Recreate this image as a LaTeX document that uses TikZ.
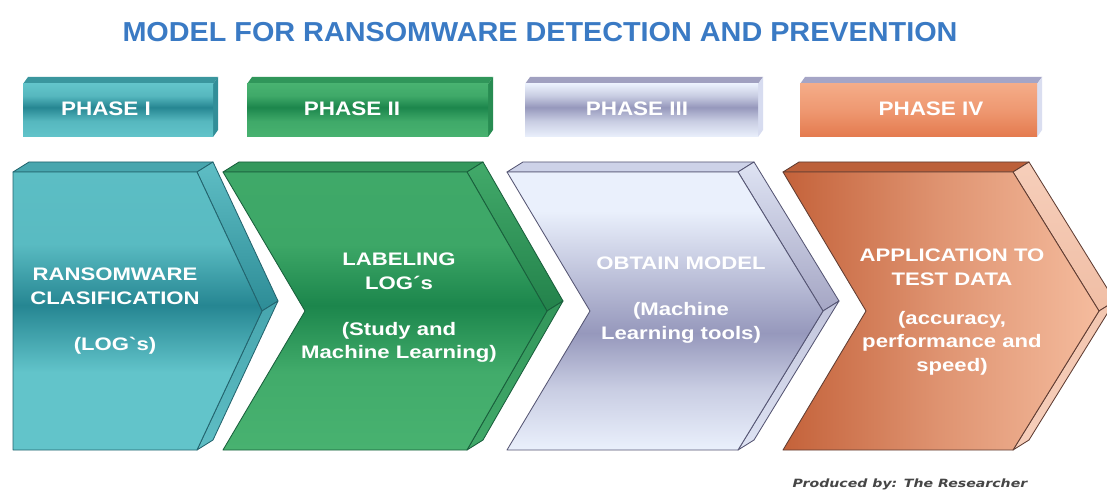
\documentclass[tikz,border=0pt]{standalone}
\usepackage{fontspec}
\setmainfont{Liberation Sans}
\newfontfamily\titlefont[FakeStretch=1.05]{Liberation Sans}
\newfontfamily\chevfont[FakeStretch=1.22]{Liberation Sans}
\newfontfamily\phasefont[FakeStretch=1.15]{Liberation Sans}
\newfontfamily\notefont[FakeStretch=1.24]{DejaVu Sans}

% colours: lt/dk = front band, top = top face, sd/sdb = side face, ln = outline
\definecolor{teallt}{RGB}{98,196,202}
\definecolor{tealdk}{RGB}{38,134,146}
\definecolor{tealtop}{RGB}{72,166,174}
\definecolor{tealsd}{RGB}{95,190,197}
\definecolor{tealsdb}{RGB}{45,140,150}
\definecolor{tealln}{RGB}{35,100,110}
\definecolor{greenlt}{RGB}{72,178,112}
\definecolor{greendk}{RGB}{28,134,76}
\definecolor{greentop}{RGB}{52,152,92}
\definecolor{greensd}{RGB}{66,170,106}
\definecolor{greensdb}{RGB}{35,130,75}
\definecolor{greenln}{RGB}{25,95,60}
\definecolor{lilaclt}{RGB}{234,240,252}
\definecolor{lilacdk}{RGB}{150,152,188}
\definecolor{lilactop}{RGB}{205,210,232}
\definecolor{lilacsd}{RGB}{222,227,243}
\definecolor{lilacsdb}{RGB}{165,166,196}
\definecolor{lilacln}{RGB}{85,85,115}
\definecolor{copperlt}{RGB}{245,188,158}
\definecolor{copperdk}{RGB}{196,98,58}
\definecolor{coppertop}{RGB}{188,96,58}
\definecolor{coppersd}{RGB}{246,206,186}
\definecolor{coppersdb}{RGB}{240,190,165}
\definecolor{copperln}{RGB}{95,60,50}
% phase bars
\definecolor{tealptop}{RGB}{58,150,158}
\definecolor{tealpside}{RGB}{50,142,152}
\definecolor{greenptop}{RGB}{48,150,90}
\definecolor{greenpside}{RGB}{40,140,82}
\definecolor{lilacptop}{RGB}{160,160,192}
\definecolor{lilacpside}{RGB}{215,220,240}
\definecolor{copperptop}{RGB}{165,165,198}
\definecolor{copperpside}{RGB}{218,222,240}
\definecolor{copperplt}{RGB}{245,172,136}
\definecolor{copperpdk}{RGB}{228,122,78}
\definecolor{titleblue}{RGB}{58,122,196}
\definecolor{notegray}{RGB}{70,70,70}

% front faces of the chevrons
\pgfdeclareverticalshading{tealband}{100bp}{color(0bp)=(teallt); color(25bp)=(teallt); color(39bp)=(teallt); color(51bp)=(tealdk); color(62bp)=(teallt!85!tealdk); color(75bp)=(teallt!90!tealdk); color(100bp)=(teallt)}
\pgfdeclareverticalshading{greenband}{100bp}{color(0bp)=(greenlt); color(25bp)=(greenlt); color(39bp)=(greenlt!85!greendk); color(51bp)=(greendk); color(62bp)=(greenlt!75!greendk); color(75bp)=(greenlt!80!greendk); color(100bp)=(greenlt)}
\pgfdeclareverticalshading{lilacband}{100bp}{color(0bp)=(lilaclt); color(25bp)=(lilaclt); color(36bp)=(lilaclt!60!lilacdk); color(46bp)=(lilacdk); color(58bp)=(lilaclt!55!lilacdk); color(68bp)=(lilaclt); color(75bp)=(lilaclt); color(100bp)=(lilaclt)}
\pgfdeclarehorizontalshading{copperband}{100bp}{color(0bp)=(copperdk); color(25bp)=(copperdk); color(50bp)=(copperdk!45!copperlt); color(75bp)=(copperlt); color(100bp)=(copperlt)}
% phase bars
\pgfdeclareverticalshading{tealphase}{100bp}{color(0bp)=(teallt); color(25bp)=(teallt); color(40bp)=(teallt!80!tealdk); color(53bp)=(tealdk); color(64bp)=(teallt!80!tealdk); color(75bp)=(teallt); color(100bp)=(teallt)}
\pgfdeclareverticalshading{greenphase}{100bp}{color(0bp)=(greenlt); color(25bp)=(greenlt); color(40bp)=(greenlt!80!greendk); color(53bp)=(greendk); color(64bp)=(greenlt!80!greendk); color(75bp)=(greenlt); color(100bp)=(greenlt)}
\pgfdeclareverticalshading{lilacphase}{100bp}{color(0bp)=(lilaclt); color(25bp)=(lilaclt); color(40bp)=(lilaclt!60!lilacdk); color(53bp)=(lilacdk); color(64bp)=(lilaclt!60!lilacdk); color(75bp)=(lilaclt); color(100bp)=(lilaclt)}
\pgfdeclareverticalshading{copperphase}{100bp}{color(0bp)=(copperpdk); color(25bp)=(copperpdk); color(50bp)=(copperplt!60!copperpdk); color(75bp)=(copperplt); color(100bp)=(copperplt)}

\begin{document}
\begin{tikzpicture}[x=0.025cm, y=-0.025cm,
    face/.style={line width=0.6pt, line join=round},
    chevtext/.style={text=white, align=center, font=\chevfont\bfseries\fontsize{12.9}{16.7}\selectfont},
    phasetext/.style={text=white, font=\phasefont\bfseries\fontsize{13.9}{16}\selectfont}]
    \fill[white] (0,0) rectangle (1107,492);
    \useasboundingbox (0,0) rectangle (1107,492);

    % Title
    \node[text=titleblue, font=\titlefont\bfseries\fontsize{19.5}{22}\selectfont] (title) at (540,32)
        {MODEL FOR RANSOMWARE DETECTION AND PREVENTION};

    % Phase bars
    \foreach \a/\b/\k/\tx/\txt [count=\i] in {23/213/teal/106/PHASE I, 247/488/green/352/PHASE II,
            525/758/lilac/637/PHASE III, 800/1037/copper/931/PHASE IV} {
            \fill[\k ptop] (\a,84) -- (\a+5,77) -- (\b+5,77) -- (\b,84) -- cycle;
            \fill[\k pside] (\b,84) -- (\b+5,77) -- (\b+5,130) -- (\b,137) -- cycle;
            \shade[shading=\k phase] (\a,84) rectangle (\b,137);
            \node[phasetext] (phase\i) at (\tx,109) {\txt};
        }

    % Chevrons: left, notch depth, right, tip
    \foreach \a/\n/\b/\t/\k in {13/0/197/262/teal, 223/82/467/547/green,
            507/83/738/823/lilac, 783/83/1013/1099/copper} {
            % top face
            \draw[face, draw=\k ln, fill=\k top] (\a,172) -- (\a+16,162) -- (\b+16,162) -- (\b,172) -- cycle;
            % side faces
            \draw[face, draw=\k ln, top color=\k sd, bottom color=\k sdb] (\b,172) -- (\b+16,162) -- (\t+16,301) -- (\t,311) -- cycle;
            \draw[face, draw=\k ln, top color=\k sdb!50!\k sd, bottom color=\k sd] (\t,311) -- (\t+16,301) -- (\b+16,440) -- (\b,450) -- cycle;
            % front face
            \draw[face, draw=\k ln, shade, shading=\k band] (\a,172) -- (\b,172) -- (\t,311) -- (\b,450) -- (\a,450) -- (\a+\n,311) -- cycle;
        }

    % Chevron texts
    \node[chevtext] (clasif) at (115,311) {RANSOMWARE\\CLASIFICATION\\[16pt](LOG\symbol{"60}s)};
    \node[chevtext] (labeling) at (399,308) {LABELING\\LOG´s\\[16pt](Study and\\Machine Learning)};
    \node[chevtext] (obtain) at (681,300) {OBTAIN MODEL\\[16pt](Machine\\Learning tools)};
    \node[chevtext] (apply) at (952,312) {APPLICATION TO\\TEST DATA\\[11pt](accuracy,\\performance and\\speed)};

    % Credit line
    \node[text=notegray, font=\notefont\bfseries\itshape\fontsize{8.1}{9}\selectfont] (credit) at (910,484)
        {Produced by: The Researcher};
\end{tikzpicture}
\end{document}
